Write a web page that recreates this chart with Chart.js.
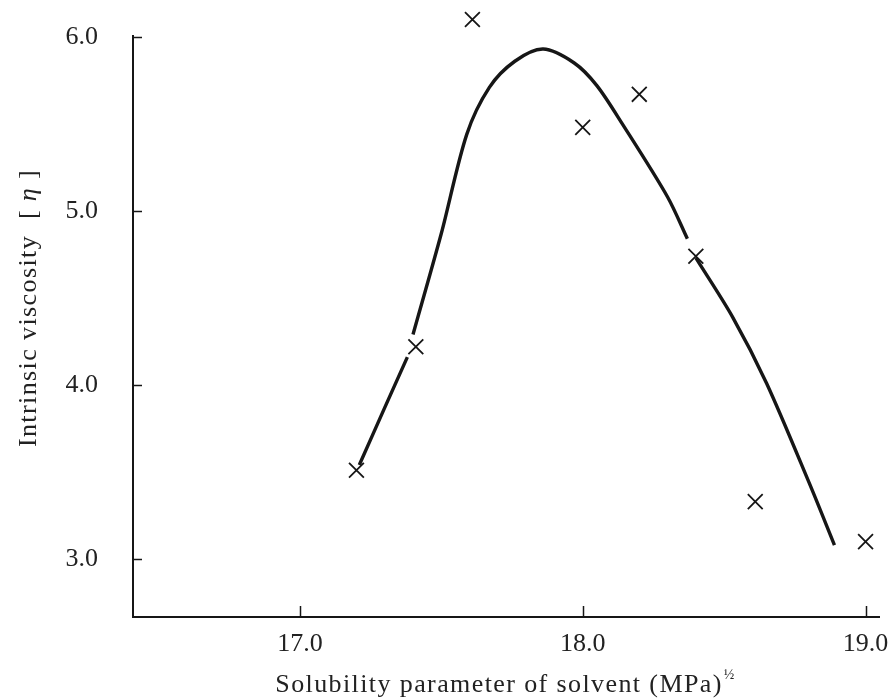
<!DOCTYPE html>
<html>
<head>
<meta charset="utf-8">
<script src="https://cdn.jsdelivr.net/npm/chart.js@4/dist/chart.umd.min.js"></script>
<style>
  html, body { margin: 0; padding: 0; background: #fff; }
  #wrap { width: 892px; height: 698px; }
</style>
</head>
<body>
<div id="wrap"><canvas id="chart" width="892" height="698"></canvas></div>
<script>
"use strict";

// measured points: solubility parameter of solvent vs intrinsic viscosity
var solventDelta = [17.2, 17.41, 17.61, 18.0, 18.2, 18.4, 18.61, 19.0];
var viscosity = [3.51, 4.22, 6.10, 5.48, 5.67, 4.74, 3.33, 3.10];

// hand drawn trend curve (null = pen lifted over a marker)
var curveDelta = [17.21, 17.30, 17.38, 17.39, 17.40, 17.50, 17.59, 17.67, 17.76, 17.86, 17.97, 18.05, 18.14, 18.30, 18.37, 18.38, 18.40, 18.53, 18.65, 18.80, 18.89];
var curveVisc = [3.54, 3.87, 4.16, null, 4.29, 4.87, 5.44, 5.71, 5.86, 5.93, 5.85, 5.72, 5.50, 5.08, 4.84, null, 4.73, 4.39, 4.01, 3.44, 3.08];

var xTicks = [17.0, 18.0, 19.0];
var yTicks = [3.0, 4.0, 5.0, 6.0];

var ink = "#161616";
var textInk = "#222";
var serif = "'Liberation Serif', 'DejaVu Serif', serif";

var curvePts = curveDelta.map(function (x, i) { return { x: x, y: curveVisc[i] }; });
var markPts = solventDelta.map(function (x, i) { return { x: x, y: viscosity[i] }; });

// y axis line (stops at the top tick), inward tick marks, axis titles
var axisDecor = {
  id: "axisDecor",
  afterDraw: function (chart) {
    var c = chart.ctx;
    var xs = chart.scales.x, ys = chart.scales.y;
    var area = chart.chartArea;
    var top = ys.getPixelForValue(6.0) - 2;
    c.save();
    c.strokeStyle = ink;
    c.lineWidth = 2;
    c.beginPath();
    c.moveTo(area.left, top);
    c.lineTo(area.left, area.bottom + 1);
    c.stroke();

    c.lineWidth = 1.5;
    yTicks.forEach(function (v) {
      var py = Math.round(ys.getPixelForValue(v)) + 0.5;
      c.beginPath();
      c.moveTo(area.left, py);
      c.lineTo(area.left + 9, py);
      c.stroke();
    });
    xTicks.forEach(function (v) {
      var px = Math.round(xs.getPixelForValue(v)) + 0.5;
      c.beginPath();
      c.moveTo(px, area.bottom);
      c.lineTo(px, area.bottom - 11);
      c.stroke();
    });

    c.fillStyle = textInk;
    c.textBaseline = "alphabetic";
    c.textAlign = "left";
    c.letterSpacing = "1.4px";

    // x title with a small superscript half
    c.font = "26px " + serif;
    var main = "Solubility parameter of solvent (MPa)";
    var wMain = c.measureText(main).width;
    c.font = "14px " + serif;
    var wSup = c.measureText("\u00BD").width;
    var x0 = 505 - (wMain + wSup) / 2;
    c.font = "26px " + serif;
    c.fillText(main, x0, 692);
    c.font = "14px " + serif;
    c.fillText("\u00BD", x0 + wMain + 1, 679);

    // y title, rotated
    c.translate(36, 308);
    c.rotate(-Math.PI / 2);
    c.font = "26px " + serif;
    var a = "Intrinsic viscosity  [ ";
    var b = "\u03B7";
    var d = " ]";
    var wa = c.measureText(a).width;
    var wd = c.measureText(d).width;
    c.font = "italic 26px " + serif;
    var wb = c.measureText(b).width;
    var start = -(wa + wb + wd) / 2;
    c.font = "26px " + serif;
    c.fillText(a, start, 0);
    c.font = "italic 26px " + serif;
    c.fillText(b, start + wa, 0);
    c.font = "26px " + serif;
    c.fillText(d, start + wa + wb, 0);
    c.restore();
  }
};

new Chart(document.getElementById("chart"), {
  type: "scatter",
  data: {
    datasets: [
      {
        label: "curve",
        data: curvePts,
        showLine: true,
        spanGaps: false,
        borderColor: ink,
        borderWidth: 3.4,
        pointRadius: 0,
        tension: 0.3,
        clip: false
      },
      {
        label: "measured",
        data: markPts,
        showLine: false,
        pointStyle: "crossRot",
        pointRadius: 10.5,
        pointBorderWidth: 1.8,
        borderColor: ink,
        pointBorderColor: ink,
        backgroundColor: ink,
        clip: false
      }
    ]
  },
  options: {
    responsive: false,
    animation: false,
    layout: { padding: { top: 16, right: 11, left: 0, bottom: 0 } },
    plugins: {
      legend: { display: false },
      tooltip: { enabled: false }
    },
    scales: {
      x: {
        type: "linear",
        min: 16.41,
        max: 19.05,
        afterBuildTicks: function (s) { s.ticks = xTicks.map(function (v) { return { value: v }; }); },
        afterFit: function (s) {
          s.height = 81;
          s.paddingLeft = 0;
          s.paddingRight = 0;
        },
        grid: { display: false, drawTicks: false },
        border: { display: true, color: ink, width: 2 },
        ticks: {
          padding: 12,
          color: textInk,
          font: { family: serif, size: 26 },
          maxRotation: 0,
          callback: function (v) { return v.toFixed(1); }
        }
      },
      y: {
        type: "linear",
        min: 2.667,
        max: 6.12,
        afterBuildTicks: function (s) { s.ticks = yTicks.map(function (v) { return { value: v }; }); },
        afterFit: function (s) {
          s.width = 133;
          s.paddingTop = 0;
          s.paddingBottom = 0;
        },
        grid: { display: false, drawTicks: false },
        border: { display: false },
        ticks: {
          padding: 35,
          color: textInk,
          font: { family: serif, size: 26 },
          callback: function (v) { return v.toFixed(1); }
        }
      }
    }
  },
  plugins: [axisDecor]
});
</script>
</body>
</html>
